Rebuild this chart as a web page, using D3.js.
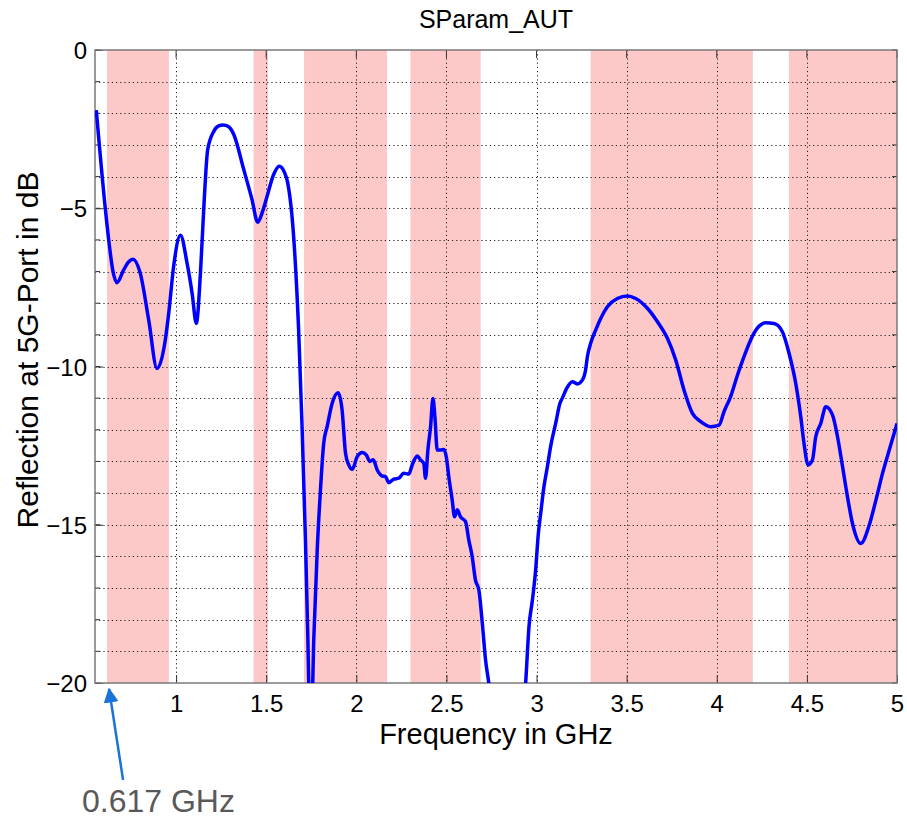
<!DOCTYPE html>
<html>
<head>
<meta charset="utf-8">
<script src="https://cdn.jsdelivr.net/npm/d3@7"></script>
<style>
  body { margin: 0; background: #fff; }
  svg { font-family: "Liberation Sans", Arial, sans-serif; }
</style>
</head>
<body>
<svg id="chart" width="907" height="818"></svg>
<script>
// frequency points (GHz) and reflection (dB)
const freq = [0.557, 0.607, 0.626, 0.650, 0.672, 0.709, 0.737, 0.761, 0.801, 0.848, 0.894, 0.940, 0.959, 0.986,
  1.024, 1.061, 1.089, 1.112, 1.135, 1.153, 1.175, 1.208, 1.236, 1.261, 1.290, 1.320, 1.375, 1.420, 1.453,
  1.480, 1.505, 1.540, 1.573, 1.600, 1.619, 1.653, 1.680, 1.699, 1.718, 1.730, 1.742, 1.752, 1.764, 1.783,
  1.801, 1.819, 1.838, 1.866, 1.899, 1.921, 1.940, 1.958, 1.977, 2.005, 2.033, 2.056, 2.075, 2.094, 2.116,
  2.144, 2.162, 2.180, 2.208, 2.236, 2.263, 2.291, 2.310, 2.338, 2.356, 2.374, 2.384, 2.397, 2.412, 2.425,
  2.436, 2.449, 2.467, 2.486, 2.499, 2.513, 2.532, 2.545, 2.560, 2.578, 2.606, 2.624, 2.643, 2.661, 2.680,
  2.699, 2.717, 2.735, 2.780, 2.900, 2.940, 2.958, 2.977, 2.995, 3.010, 3.023, 3.041, 3.060, 3.078, 3.106,
  3.130, 3.143, 3.167, 3.199, 3.226, 3.254, 3.272, 3.282, 3.300, 3.328, 3.356, 3.393, 3.448, 3.504, 3.550,
  3.615, 3.670, 3.726, 3.772, 3.818, 3.865, 3.911, 3.966, 4.013, 4.040, 4.077, 4.115, 4.151, 4.188, 4.225,
  4.272, 4.318, 4.364, 4.401, 4.438, 4.466, 4.484, 4.507, 4.531, 4.549, 4.577, 4.605, 4.642, 4.670, 4.698,
  4.725, 4.753, 4.799, 4.846, 4.883, 4.920, 4.957, 5.000];
const reflDb = [-1.90, -5.00, -6.00, -7.00, -7.35, -6.95, -6.69, -6.61, -7.05, -8.53, -10.06, -9.16, -8.32, -6.85,
  -5.85, -6.74, -7.69, -8.64, -7.06, -5.06, -3.16, -2.58, -2.40, -2.37, -2.42, -2.67, -3.77, -4.70, -5.44,
  -5.10, -4.62, -3.95, -3.67, -3.85, -4.19, -5.96, -8.87, -11.91, -15.55, -18.35, -21.0, -21.0, -18.6, -15.8,
  -13.9, -12.43, -11.90, -11.16, -10.83, -11.37, -12.74, -13.11, -13.25, -12.85, -12.72, -12.80, -13.00, -12.95, -13.27,
  -13.46, -13.48, -13.67, -13.56, -13.53, -13.37, -13.40, -13.11, -12.83, -12.95, -13.06, -13.53, -12.64, -11.90, -11.01,
  -11.59, -12.64, -12.64, -12.62, -12.85, -13.48, -14.22, -14.75, -14.53, -14.75, -14.90, -15.48, -16.01, -16.75, -17.06,
  -18.11, -19.27, -20.0, -22.5, -22.5, -19.96, -18.22, -17.38, -16.43, -15.27, -14.64, -13.80, -13.17, -12.53, -11.80,
  -11.16, -11.00, -10.69, -10.48, -10.55, -10.43, -10.11, -9.69, -9.27, -8.85, -8.48, -8.11, -7.85, -7.77, -7.85,
  -8.16, -8.58, -9.11, -9.79, -10.74, -11.48, -11.74, -11.90, -11.85, -11.43, -10.95, -10.27, -9.69, -9.16, -8.79,
  -8.62, -8.64, -8.90, -9.58, -10.53, -11.59, -12.43, -13.11, -12.95, -12.22, -11.80, -11.27, -11.53, -12.22, -13.17,
  -14.11, -14.96, -15.59, -15.01, -14.22, -13.37, -12.64, -11.80];

// shaded frequency bands (GHz)
const bandStart = [0.617, 1.43, 1.71, 2.30, 3.30, 4.40];
const bandEnd   = [0.96, 1.51, 2.17, 2.69, 4.20, 5.00];

const xTicks = [1, 1.5, 2, 2.5, 3, 3.5, 4, 4.5, 5];
const yTicks = [0, -5, -10, -15, -20];
const yGrid = d3.range(0, -21, -1);

const markerFreq = 0.617;
const markerLabel = '0.617 GHz';

const svg = d3.select('#chart');
const margin = {left: 95, top: 50, right: 10, bottom: 135};
const W = 907, H = 818;

const x = d3.scaleLinear().domain([0.55, 5]).range([margin.left, W - margin.right]);
const y = d3.scaleLinear().domain([-20, 0]).range([H - margin.bottom, margin.top]);

const x0 = x.range()[0], x1 = x.range()[1], y0 = y.range()[0], y1 = y.range()[1];

// clip for the trace
svg.append('defs').append('clipPath').attr('id', 'clip')
  .append('rect').attr('x', x0).attr('y', y1).attr('width', x1 - x0).attr('height', y0 - y1);

// bands
svg.append('g').selectAll('rect')
  .data(bandStart.map((s, i) => [s, bandEnd[i]]))
  .enter().append('rect')
  .attr('x', d => x(d[0]))
  .attr('width', d => x(d[1]) - x(d[0]))
  .attr('y', y1)
  .attr('height', y0 - y1)
  .attr('fill', '#fcc8c8');

// grid (dotted)
const grid = svg.append('g').attr('stroke', '#222').attr('stroke-dasharray', '1.2,3').attr('stroke-width', 1);
grid.selectAll('.hg').data(yGrid.slice(1, -1)).enter().append('line')
  .attr('x1', x0).attr('x2', x1)
  .attr('y1', d => Math.round(y(d)) + 0.5).attr('y2', d => Math.round(y(d)) + 0.5);
grid.selectAll('.vg').data(xTicks.slice(0, -1)).enter().append('line')
  .attr('y1', y1).attr('y2', y0)
  .attr('x1', d => Math.round(x(d)) + 0.5).attr('x2', d => Math.round(x(d)) + 0.5);

// axes
const xAxis = d3.axisBottom(x).tickValues(xTicks).tickSize(-8).tickPadding(12).tickFormat(d3.format('~g'));
const yAxis = d3.axisLeft(y).tickValues(yTicks).tickSize(-8).tickPadding(8).tickFormat(d3.format('~g'));

const gx = svg.append('g').attr('transform', `translate(0,${y0})`).call(xAxis);
const gy = svg.append('g').attr('transform', `translate(${x0},0)`).call(yAxis);
[gx, gy].forEach(g => {
  g.select('.domain').remove();
  g.selectAll('.tick line').attr('stroke', '#333');
  g.selectAll('.tick text').attr('font-size', 24).attr('fill', '#000')
    .attr('font-family', '"Liberation Sans", Arial, sans-serif');
});
gy.selectAll('.tick text').attr('dy', '0.36em');

// top ticks and right/left minor ticks
svg.append('g').selectAll('line').data(xTicks).enter().append('line')
  .attr('x1', d => x(d)).attr('x2', d => x(d)).attr('y1', y1).attr('y2', y1 + 8).attr('stroke', '#333');
svg.append('g').selectAll('line').data(yGrid).enter().append('line')
  .attr('x1', x1).attr('x2', x1 - 5).attr('y1', d => y(d)).attr('y2', d => y(d)).attr('stroke', '#333');
svg.append('g').selectAll('line').data(yGrid).enter().append('line')
  .attr('x1', x0).attr('x2', x0 + 5).attr('y1', d => y(d)).attr('y2', d => y(d)).attr('stroke', '#333');

// box
svg.append('rect').attr('x', x0).attr('y', y1).attr('width', x1 - x0).attr('height', y0 - y1)
  .attr('fill', 'none').attr('stroke', '#7a7a7a').attr('stroke-width', 1.5);

// trace
const pts = freq.map((f, i) => [f, reflDb[i]]);
const line = d3.line().x(d => x(d[0])).y(d => y(d[1])).curve(d3.curveMonotoneX);
svg.append('path').datum(pts)
  .attr('clip-path', 'url(#clip)')
  .attr('d', line)
  .attr('fill', 'none')
  .attr('stroke', '#0000ff')
  .attr('stroke-width', 3.5)
  .attr('stroke-linejoin', 'round');

// titles
svg.append('text').attr('x', (x0 + x1) / 2).attr('y', 28).attr('text-anchor', 'middle')
  .attr('font-size', 25).text('SParam_AUT');
svg.append('text').attr('x', (x0 + x1) / 2).attr('y', 744).attr('text-anchor', 'middle')
  .attr('font-size', 29).text('Frequency in GHz');
svg.append('text').attr('transform', `translate(38,350) rotate(-90)`)
  .attr('text-anchor', 'middle').attr('font-size', 30).text('Reflection at 5G-Port in dB');

// marker arrow + label
const arrowColor = '#1a73d9';
svg.append('defs').append('marker').attr('id', 'arr')
  .attr('viewBox', '0 0 10 10').attr('refX', 9).attr('refY', 5)
  .attr('markerWidth', 6).attr('markerHeight', 6).attr('orient', 'auto-start-reverse')
  .append('path').attr('d', 'M0,0 L10,5 L0,10 z').attr('fill', arrowColor);
svg.append('line')
  .attr('x1', x(markerFreq) + 16).attr('y1', 780)
  .attr('x2', x(markerFreq) + 2).attr('y2', y0 + 6)
  .attr('stroke', arrowColor).attr('stroke-width', 2.5)
  .attr('marker-end', 'url(#arr)');
svg.append('text').attr('x', 82).attr('y', 812).attr('font-size', 32).attr('fill', '#595959')
  .text(markerLabel);
</script>
</body>
</html>
